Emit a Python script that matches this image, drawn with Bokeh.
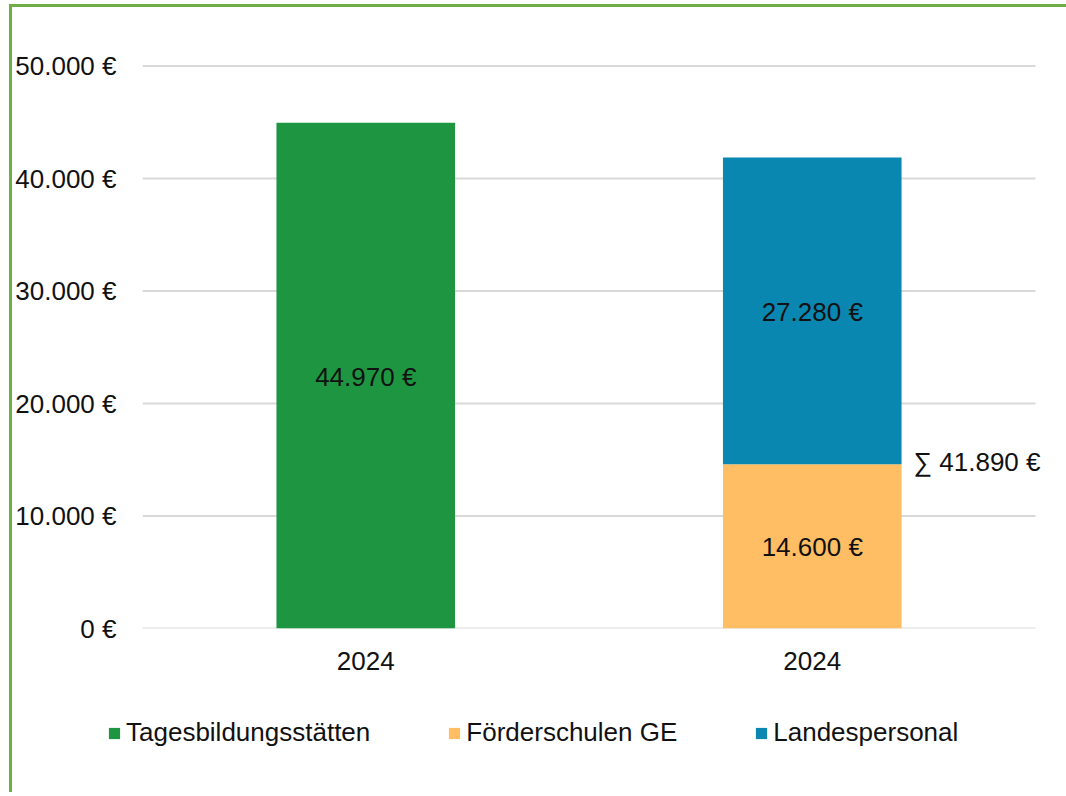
from bokeh.plotting import figure
from bokeh.layouts import column
from bokeh.models import (Range1d, FixedTicker, CustomJSTickFormatter, Legend,
                          LegendItem, ColumnDataSource)
from bokeh.embed import file_html
from bokeh.resources import INLINE
from bokeh.core.properties import value

# ---- data ----
categories = ["2024", "2024"]
series_names = ["Tagesbildungsstätten", "Förderschulen GE", "Landespersonal"]
tagesbildung = [44970, 0]
foerderschulen = [0, 14600]
landespersonal = [0, 27280]
sum_values = [None, 41890]
colors = ["#1E9641", "#FFBE64", "#0A87B0"]
y_ticks = [0, 10000, 20000, 30000, 40000, 50000]

FONT = "Liberation Sans"
FS = "26px"
TXT = "#111111"
GRID = "#D9D9D9"


def fmt(v):
    return f"{v:,}".replace(",", ".") + " €"


W = 1054
n = len(categories)
# frame extends a little right of the last gridline so the sum label is not clipped
x_end = n * (1052 - 142) / (1035 - 142)
p = figure(width=W, height=693, output_backend="svg", toolbar_location=None,
           x_range=Range1d(0, x_end), y_range=Range1d(0, 50500),
           min_border_left=130, min_border_right=14, min_border_top=53,
           min_border_bottom=72)
p.frame_align = False
p.outline_line_color = None
p.background_fill_color = "white"
p.border_fill_color = "white"

# gridlines (incl. the zero line) spanning the category area only
p.segment(x0=[0] * len(y_ticks), x1=[n] * len(y_ticks), y0=y_ticks, y1=y_ticks,
          line_color=GRID, line_width=2, level="underlay")

# ---- legend strip (separate figure so the legend can extend left of the axis) ----
leg = figure(width=W, height=92, output_backend="svg", toolbar_location=None,
             x_range=Range1d(-12, -10), y_range=Range1d(-2, -1),
             min_border=0)
leg.frame_align = False
leg.axis.visible = False
leg.grid.visible = False
leg.outline_line_color = None
leg.border_fill_color = "white"
leg.background_fill_color = "white"

xs = [i + 0.5 for i in range(n)]
series = [tagesbildung, foerderschulen, landespersonal]
bottoms = [0] * n
label_x, label_y, label_t = [], [], []
items = []
for name, vals, col in zip(series_names, series, colors):
    bx, bb, bt = [], [], []
    for i, v in enumerate(vals):
        if v:
            bx.append(xs[i]); bb.append(bottoms[i]); bt.append(bottoms[i] + v)
            label_x.append(xs[i]); label_y.append(bottoms[i] + v / 2); label_t.append(fmt(v))
            bottoms[i] += v
    src = ColumnDataSource(dict(x=bx, bottom=bb, top=bt))
    p.vbar(x="x", bottom="bottom", top="top", width=0.4, source=src,
           fill_color=col, line_color=None)
    # same bars in the legend strip: outside its visible range, used for legend swatches
    r = leg.vbar(x="x", bottom="bottom", top="top", width=0.4, source=src,
                 fill_color=col, line_color=None)
    items.append(LegendItem(label=name, renderers=[r]))

p.text(x=label_x, y=label_y, text=label_t, text_align="center",
       text_baseline="middle", y_offset=1, text_font=value(FONT),
       text_font_size=FS, text_color=TXT)

# sum label next to the stacked bar
sx, sy, st = [], [], []
for i, s in enumerate(sum_values):
    if s is not None:
        sx.append(xs[i] + 0.2); sy.append(foerderschulen[i]); st.append("∑ " + fmt(s))
p.text(x=sx, y=sy, text=st, text_align="left", text_baseline="middle",
       x_offset=12, y_offset=-2, text_font=value(FONT), text_font_size=FS,
       text_color=TXT)

# axes
p.yaxis.ticker = FixedTicker(ticks=y_ticks)
p.yaxis.formatter = CustomJSTickFormatter(
    code="return tick.toString().replace(/\\B(?=(\\d{3})+(?!\\d))/g, '.') + ' €';")
p.yaxis.axis_line_color = None
p.yaxis.major_tick_line_color = None
p.yaxis.minor_tick_line_color = None
p.yaxis.major_label_standoff = 20
p.yaxis.major_label_text_font = FONT
p.yaxis.major_label_text_font_size = FS
p.yaxis.major_label_text_color = TXT

p.xaxis.ticker = FixedTicker(ticks=xs)
p.xaxis.major_label_overrides = {x: c for x, c in zip(xs, categories)}
p.xaxis.axis_line_color = None
p.xaxis.major_tick_line_color = None
p.xaxis.minor_tick_line_color = None
p.xaxis.major_label_standoff = 17
p.xaxis.major_label_text_font = FONT
p.xaxis.major_label_text_font_size = FS
p.xaxis.major_label_text_color = TXT

p.grid.visible = False

legend = Legend(items=items, orientation="horizontal", location=(95, 44),
                glyph_width=14, glyph_height=14, label_standoff=5, spacing=77,
                padding=0, margin=0, border_line_color=None,
                background_fill_alpha=0,
                label_text_font=FONT, label_text_font_size=FS,
                label_text_color=TXT)
leg.add_layout(legend, "center")

layout = column(p, leg, spacing=0)
layout.styles = {"border-top": "3px solid #70AD47", "border-left": "3px solid #70AD47",
                 "margin-left": "9px", "margin-top": "4px"}

open("out.html", "w").write(file_html(layout, INLINE))
